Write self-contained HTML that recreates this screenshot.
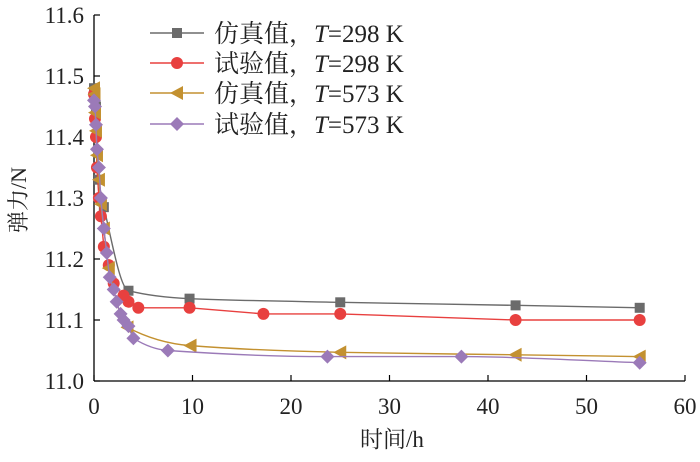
<!DOCTYPE html>
<html><head><meta charset="utf-8"><style>
html,body{margin:0;padding:0;background:#fff;}
svg text{font-family:"Liberation Serif","Noto Serif CJK SC","Noto Sans CJK SC",serif;}
</style></head><body>
<svg id="chart" width="700" height="457" viewBox="0 0 700 457" xmlns="http://www.w3.org/2000/svg">
<g id="axes"></g>
<g id="series"></g>
<g id="legend"></g>
</svg>
<script>
const xTicks=[0,10,20,30,40,50,60];
const yTicks=[11.0,11.1,11.2,11.3,11.4,11.5,11.6];
const yTickLabels=["11.0","11.1","11.2","11.3","11.4","11.5","11.6"];
const simT298=[0,0.2,0.5,1,3.5,9.7,25,42.8,55.4];
const simF298=[11.48,11.45,11.33,11.285,11.148,11.135,11.129,11.124,11.12];
const expT298=[0,0.1,0.2,0.3,0.5,0.7,1,1.5,2,3,3.5,4.5,9.7,17.2,25,42.8,55.4];
const expF298=[11.47,11.43,11.4,11.35,11.3,11.27,11.22,11.19,11.16,11.14,11.13,11.12,11.12,11.11,11.11,11.10,11.10];
const simT573=[0,0.05,0.1,0.2,0.3,0.5,0.7,1,1.5,3.4,9.8,25,42.8,55.4];
const simF573=[11.48,11.47,11.44,11.41,11.37,11.33,11.29,11.25,11.185,11.088,11.058,11.047,11.043,11.04];
const expT573=[0,0.1,0.2,0.3,0.5,0.7,1,1.3,1.6,2,2.3,2.7,3,3.5,4,7.5,23.7,37.3,55.4];
const expF573=[11.46,11.45,11.42,11.38,11.35,11.3,11.25,11.21,11.17,11.15,11.13,11.11,11.10,11.09,11.07,11.05,11.04,11.04,11.03];
const legendLabels=["仿真值，","试验值，","仿真值，","试验值，"];
const legendTemps=["=298 K","=298 K","=573 K","=573 K"];

const NS="http://www.w3.org/2000/svg";
const X0=94,X1=685,Y0=381,Y1=15;
const xs=v=>X0+(v-0)/(60-0)*(X1-X0);
const ys=v=>Y0-(v-11.0)/(0.6)*(Y0-Y1);
function mk(tag,attrs,parent){const e=document.createElementNS(NS,tag);for(const k in attrs)e.setAttribute(k,attrs[k]);parent.appendChild(e);return e;}
const axes=document.getElementById('axes'),series=document.getElementById('series'),legend=document.getElementById('legend');

let e=mk('line',{x1:X0,y1:Y1,x2:X0,y2:Y0,stroke:'#000','stroke-width':1.3},axes);


e=mk('line',{x1:X0,y1:Y0,x2:X1,y2:Y0,stroke:'#000','stroke-width':1.3},axes);


xTicks.forEach(t=>{
 let l=mk('line',{x1:xs(t),y1:Y0,x2:xs(t),y2:Y0-6,stroke:'#000','stroke-width':1.2},axes);
 
 
 let tx=mk('text',{x:xs(t),y:414,'text-anchor':'middle','font-size':23,fill:'#222'},axes);
 tx.textContent=String(t);
 
 
});
yTicks.forEach((t,i)=>{
 let l=mk('line',{x1:X0,y1:ys(t),x2:X0+6,y2:ys(t),stroke:'#000','stroke-width':1.2},axes);
 
 
 let tx=mk('text',{x:84,y:ys(t)+8,'text-anchor':'end','font-size':23,fill:'#222'},axes);
 tx.textContent=yTickLabels[i];
 
 
});
e=mk('text',{x:392,y:447,'text-anchor':'middle','font-size':23,fill:'#222'},axes);
e.textContent='时间/h';


e=mk('text',{x:0,y:0,'text-anchor':'middle','font-size':22,fill:'#222',transform:'translate(26,200) rotate(-90)'},axes);
e.textContent='弹力/N';



function monoPath(T,F){
 const p=T.map((t,i)=>[xs(t),ys(F[i])]);
 const n=p.length,d=[],m=new Array(n);
 for(let i=0;i<n-1;i++){const dx=p[i+1][0]-p[i][0];d.push(dx===0?0:(p[i+1][1]-p[i][1])/dx);}
 m[0]=d[0];m[n-1]=d[n-2];
 for(let i=1;i<n-1;i++){m[i]=(d[i-1]*d[i]<=0)?0:2/(1/d[i-1]+1/d[i]);}
 let s='M'+p[0][0]+','+p[0][1];
 for(let i=0;i<n-1;i++){
  const h=(p[i+1][0]-p[i][0])/3;
  s+=' C'+(p[i][0]+h)+','+(p[i][1]+m[i]*h)+' '+(p[i+1][0]-h)+','+(p[i+1][1]-m[i+1]*h)+' '+p[i+1][0]+','+p[i+1][1];
 }
 return s;
}
function polyPath(T,F){return T.map((t,i)=>(i?'L':'M')+xs(t)+','+ys(F[i])).join(' ');}
function marker(kind,x,y,color,parent){
 let m;
 if(kind==='square')m=mk('rect',{x:x-5,y:y-5,width:10,height:10,fill:color},parent);
 else if(kind==='circle')m=mk('circle',{cx:x,cy:y,r:6,fill:color},parent);
 else if(kind==='tri')m=mk('polygon',{points:`${x-7},${y} ${x+6},${y-7} ${x+6},${y+7}`,fill:color},parent);
 else m=mk('polygon',{points:`${x},${y-7} ${x+7},${y} ${x},${y+7} ${x-7},${y}`,fill:color},parent);
 return m;
}
const defs=[
 {T:simT298,F:simF298,c:'#6b6b6b',m:'square',smooth:true,name:'sim-298k'},
 {T:expT298,F:expF298,c:'#e8403f',m:'circle',smooth:false,name:'exp-298k'},
 {T:simT573,F:simF573,c:'#c39130',m:'tri',smooth:true,name:'sim-573k'},
 {T:expT573,F:expF573,c:'#9b7ab8',m:'diamond',smooth:true,name:'exp-573k'}
];
defs.forEach((s,si)=>{
 const g=mk('g',{},series);
 
 
 const ln=mk('path',{d:s.smooth?monoPath(s.T,s.F):polyPath(s.T,s.F),fill:'none',stroke:s.c,'stroke-width':1.4},g);
 
 
 s.T.forEach((t,i)=>{
  const m=marker(s.m,xs(t),ys(s.F[i]),s.c,g);
  
  
 });
 const ly=[33,63,93,124][si];
 const lg=mk('g',{},legend);
 
 
 mk('line',{x1:150,y1:ly,x2:204,y2:ly,stroke:s.c,'stroke-width':1.4},lg);
 marker(s.m,177,ly,s.c,lg);
 const tx=mk('text',{x:214,y:ly+9,'font-size':25,fill:'#222'},lg);
 tx.textContent=legendLabels[si];
 const ts=mk('tspan',{'font-style':'italic'},tx);ts.textContent='T';
 const ts2=mk('tspan',{},tx);ts2.textContent=legendTemps[si];
});
</script>
</body></html>
